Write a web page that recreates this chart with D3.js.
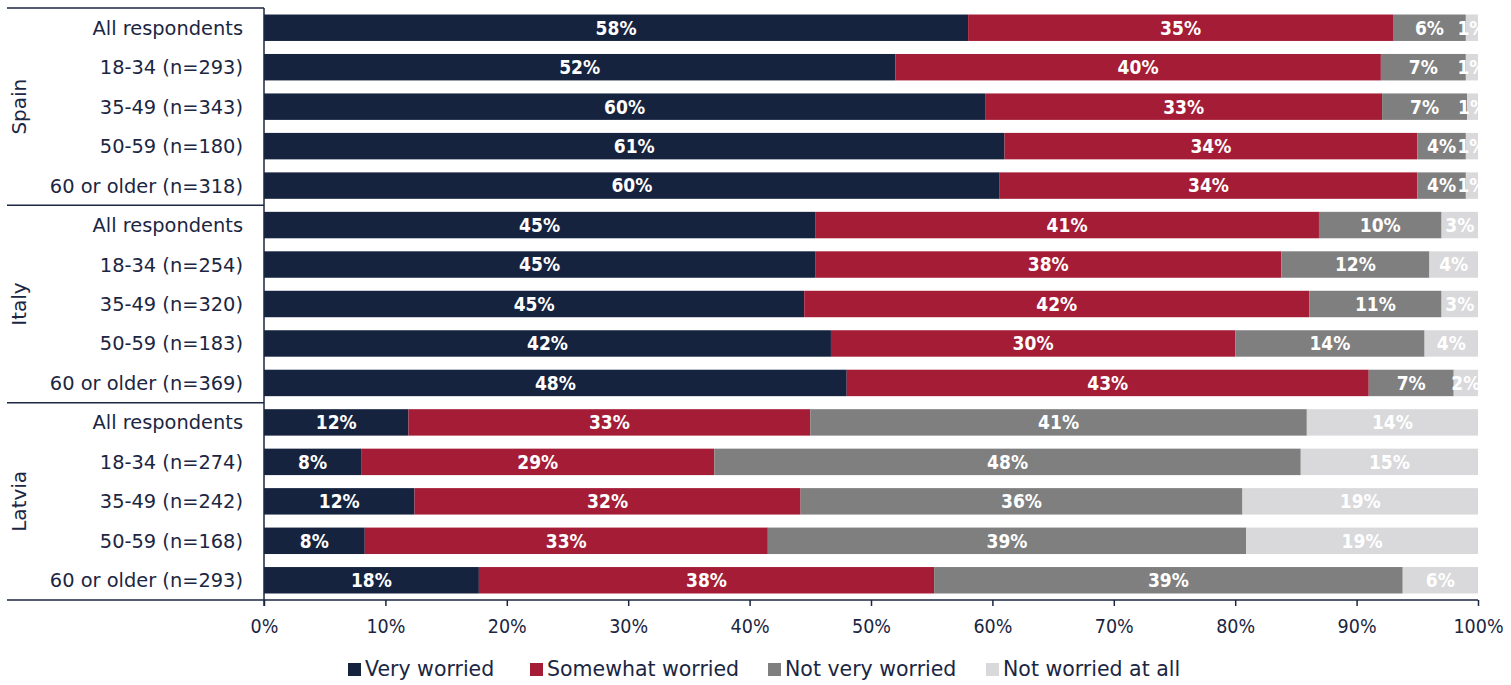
<!DOCTYPE html>
<html>
<head>
<meta charset="utf-8">
<script src="https://cdn.jsdelivr.net/npm/d3@7"></script>
<style>
  body { margin: 0; background: #fff; }
  svg { display: block; font-family: "DejaVu Sans", sans-serif; }
  .num { font-family: "DejaVu Sans Condensed", "DejaVu Sans", sans-serif; }
</style>
</head>
<body>
<div id="chart"></div>
<script>
//categories
var countries = ["Spain", "Italy", "Latvia"];
var groups = ["All respondents", "18-34 (n=293)", "35-49 (n=343)", "50-59 (n=180)", "60 or older (n=318)",
              "All respondents", "18-34 (n=254)", "35-49 (n=320)", "50-59 (n=183)", "60 or older (n=369)",
              "All respondents", "18-34 (n=274)", "35-49 (n=242)", "50-59 (n=168)", "60 or older (n=293)"];
var series = ["Very worried", "Somewhat worried", "Not very worried", "Not worried at all"];

//segment widths as drawn (percent)
var veryWorried     = [58.0, 52.0, 59.4, 61.0, 60.6, 45.4, 45.4, 44.5, 46.7, 48.0, 11.9, 8.0, 12.4, 8.3, 17.7];
var somewhatWorried = [35.0, 40.0, 32.7, 34.0, 34.4, 41.5, 38.4, 41.6, 33.3, 43.0, 33.1, 29.1, 31.8, 33.2, 37.5];
var notVeryWorried  = [6.0, 7.0, 7.0, 4.0, 4.0, 10.1, 12.2, 10.9, 15.6, 7.0, 40.9, 48.3, 36.4, 39.4, 38.6];
var notWorriedAtAll = [1.0, 1.0, 0.9, 1.0, 1.0, 3.0, 4.0, 3.0, 4.4, 2.0, 14.1, 14.6, 19.4, 19.1, 6.2];

//data labels as printed on the bars
var veryLabels     = [58, 52, 60, 61, 60, 45, 45, 45, 42, 48, 12, 8, 12, 8, 18];
var somewhatLabels = [35, 40, 33, 34, 34, 41, 38, 42, 30, 43, 33, 29, 32, 33, 38];
var notVeryLabels  = [6, 7, 7, 4, 4, 10, 12, 11, 14, 7, 41, 48, 36, 39, 39];
var notAtAllLabels = [1, 1, 1, 1, 1, 3, 4, 3, 4, 2, 14, 15, 19, 19, 6];

var xTicks = [0, 10, 20, 30, 40, 50, 60, 70, 80, 90, 100];

var colors = ["#16233f", "#a51c36", "#7f7f7f", "#d9d9db"];
var textColor = "#1b2642";

var W = 1511, H = 685;
var plotLeft = 264, plotRight = 1478, plotTop = 8, plotBottom = 600;

var svg = d3.select("#chart").append("svg")
    .attr("width", W)
    .attr("height", H);

var x = d3.scaleLinear().domain([0, 100]).range([plotLeft, plotRight]);
var y = d3.scaleBand().domain(d3.range(groups.length)).range([plotTop, plotBottom])
    .paddingInner(0.33).paddingOuter(0.165);

//build rows with stacked segments
var values = [veryWorried, somewhatWorried, notVeryWorried, notWorriedAtAll];
var labels = [veryLabels, somewhatLabels, notVeryLabels, notAtAllLabels];
var rows = groups.map(function(g, i){
    var row = {};
    series.forEach(function(s, k){ row[s] = values[k][i]; });
    return row;
});
var stacked = d3.stack().keys(series)(rows);

svg.append("clipPath").attr("id", "plot")
  .append("rect")
    .attr("x", plotLeft).attr("y", plotTop)
    .attr("width", plotRight - plotLeft).attr("height", plotBottom - plotTop);

var layer = svg.append("g").attr("clip-path", "url(#plot)")
  .selectAll(".series")
  .data(stacked)
  .enter().append("g")
    .attr("class", "series")
    .attr("fill", function(d, k){ return colors[k]; });

layer.selectAll("rect")
  .data(function(d){ return d; })
  .enter().append("rect")
    .attr("x", function(d){ return x(d[0]); })
    .attr("y", function(d, i){ return y(i); })
    .attr("width", function(d){ return x(d[1]) - x(d[0]); })
    .attr("height", y.bandwidth());

layer.selectAll("text")
  .data(function(d, k){ return d.map(function(seg, i){ return {seg: seg, text: labels[k][i] + "%"}; }); })
  .enter().append("text")
    .attr("class", "num")
    .attr("x", function(d){ return (x(d.seg[0]) + x(d.seg[1])) / 2; })
    .attr("y", function(d, i){ return y(i) + y.bandwidth() / 2; })
    .attr("dy", "0.36em")
    .attr("text-anchor", "middle")
    .attr("fill", "#fff")
    .style("font-size", "19px")
    .style("font-weight", "bold")
    .text(function(d){ return d.text; });

//x axis
var xAxis = svg.append("g")
    .attr("transform", "translate(0," + plotBottom + ")")
    .call(d3.axisBottom(x).tickValues(xTicks).tickSize(6).tickPadding(13)
        .tickFormat(function(d){ return d + "%"; }));
xAxis.select(".domain").remove();
xAxis.selectAll("line").attr("stroke", textColor).attr("stroke-width", 1.5);
xAxis.selectAll("text")
    .attr("class", "num")
    .attr("fill", textColor)
    .style("font-size", "19.5px");

//frame lines: left axis, group separators, bottom
svg.append("line")
    .attr("x1", plotLeft).attr("x2", plotLeft).attr("y1", plotTop).attr("y2", plotBottom + 6)
    .attr("stroke", textColor).attr("stroke-width", 1.5);
svg.append("line")
    .attr("x1", 7).attr("x2", plotRight).attr("y1", plotBottom).attr("y2", plotBottom)
    .attr("stroke", textColor).attr("stroke-width", 1.5);
[0, 5, 10].forEach(function(i){
    var yy = i === 0 ? plotTop : (y(i - 1) + y.bandwidth() + y(i)) / 2;
    svg.append("line")
        .attr("x1", 7).attr("x2", plotLeft).attr("y1", yy).attr("y2", yy)
        .attr("stroke", textColor).attr("stroke-width", 1.5);
});

//category labels
svg.append("g").selectAll("text")
  .data(groups)
  .enter().append("text")
    .attr("x", 243)
    .attr("y", function(d, i){ return y(i) + y.bandwidth() / 2; })
    .attr("dy", "0.36em")
    .attr("text-anchor", "end")
    .attr("fill", textColor)
    .style("font-size", "19.4px")
    .text(function(d){ return d; });

//country labels, rotated
svg.append("g").selectAll("text")
  .data(countries)
  .enter().append("text")
    .attr("transform", function(d, c){
        var cy = (y(c * 5) + y(c * 5 + 4) + y.bandwidth()) / 2;
        return "translate(19," + cy + ") rotate(-90)";
    })
    .attr("dy", "0.36em")
    .attr("text-anchor", "middle")
    .attr("fill", textColor)
    .style("font-size", "20px")
    .text(function(d){ return d; });

//legend
var legendX = [348, 530, 768, 986];
var legend = svg.append("g").selectAll("g")
  .data(series)
  .enter().append("g")
    .attr("transform", function(d, k){ return "translate(" + legendX[k] + ",663)"; });
legend.append("rect")
    .attr("width", 13).attr("height", 13)
    .attr("fill", function(d, k){ return colors[k]; });
legend.append("text")
    .attr("x", 17).attr("y", 13)
    .attr("fill", textColor)
    .style("font-size", "20.5px")
    .text(function(d){ return d; });
</script>
</body>
</html>
